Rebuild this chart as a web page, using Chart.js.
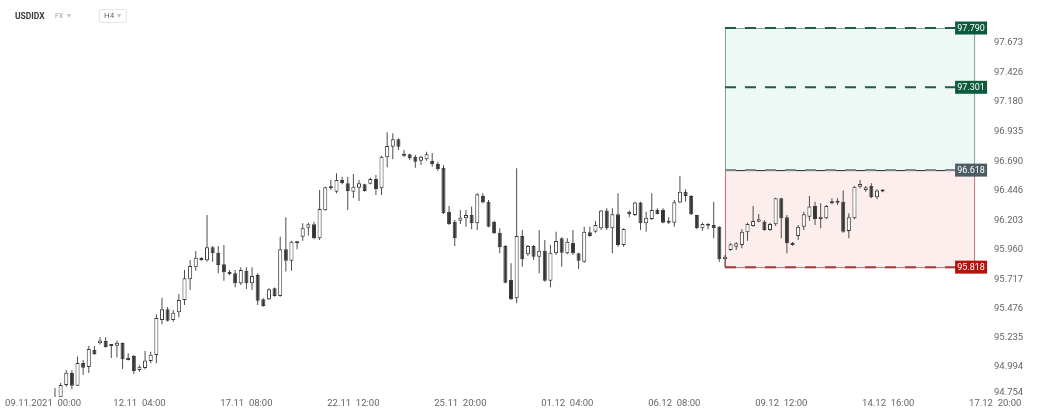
<!DOCTYPE html>
<html>
<head>
<meta charset="utf-8">
<script src="https://cdn.jsdelivr.net/npm/chart.js@4.4.1/dist/chart.umd.min.js"></script>
<style>
    html, body { margin: 0; padding: 0; background: #fff; }
    #wrap { position: relative; width: 1042px; height: 417px; }
    #hdr { position: absolute; left: 0; top: 0; font-family: Roboto, "Open Sans", sans-serif; }
    #hdr .sym { position: absolute; left: 15px; top: 11px; font-size: 8.5px; font-weight: bold; color: #3a3a3a; }
    #hdr .mk { position: absolute; left: 55px; top: 12px; font-size: 7px; color: #9a9a9a; }
    #hdr .car { position: absolute; font-size: 8px; color: #c4c4c4; }
    #hdr .tf { position: absolute; left: 99px; top: 9px; width: 28px; height: 14px; border: 1px solid #e6e6e6; border-radius: 2px; box-sizing: border-box; }
    #hdr .tf span.t { position: absolute; left: 4px; top: 1px; font-size: 8px; color: #666; }
</style>
</head>
<body>
<div id="wrap">
    <canvas id="chart" width="1042" height="417"></canvas>
    <div id="hdr">
        <span class="sym">USDIDX</span>
        <span class="mk">FX</span>
        <span class="car" style="left:67px; top:11px;">▾</span>
        <div class="tf"><span class="t">H4</span><span class="car" style="left:17px; top:1px;">▾</span></div>
    </div>
</div>
<script>
// axis labels
const priceTicks = ['97.673', '97.426', '97.180', '96.935', '96.690', '96.446', '96.203', '95.960', '95.717', '95.476', '95.235', '94.994', '94.754'];
const dateTicks = ['09.11.2021  00:00', '12.11  04:00', '17.11  08:00', '22.11  12:00', '25.11  20:00', '01.12  04:00', '06.12  08:00', '09.12  12:00', '14.12  16:00', '17.12  20:00'];
const dateTickBars = [0, 19, 38, 57, 76, 95, 114, 133, 152, 171];

// H4 candles, first one is bar #4 counted from 09.11 00:00
const firstBar = 4;
const opens = [
    94.740, 94.745, 94.846, 94.945, 94.840, 95.028, 94.995, 95.135, 95.190, 95.209,
    95.176, 95.170, 95.193, 95.071, 95.085, 94.970, 94.987, 95.044, 95.094, 95.382,
    95.471, 95.382, 95.446, 95.547, 95.718, 95.817, 95.894, 95.875, 95.982, 95.937,
    95.842, 95.778, 95.767, 95.685, 95.789, 95.685, 95.754, 95.553, 95.553, 95.644,
    95.580, 95.965, 95.871, 96.015, 96.069, 96.143, 96.171, 96.056, 96.287, 96.480,
    96.440, 96.537, 96.510, 96.440, 96.473, 96.501, 96.506, 96.545, 96.468, 96.724,
    96.811, 96.872, 96.751, 96.749, 96.729, 96.696, 96.707, 96.693, 96.669, 96.638,
    96.275, 96.193, 96.201, 96.221, 96.248, 96.180, 96.405, 96.358, 96.193, 96.102,
    95.992, 95.712, 95.561, 96.075, 95.924, 95.992, 95.904, 95.954, 95.706, 95.932,
    96.056, 95.932, 96.020, 95.932, 95.863, 96.105, 96.110, 96.138, 96.284, 96.138,
    96.254, 96.001, 96.275, 96.248, 96.350, 96.180, 96.215, 96.289, 96.289, 96.199,
    96.185, 96.350, 96.440, 96.405, 96.248, 96.138, 96.171, 96.166, 96.152, 95.883,
    95.960, 95.987, 96.001, 96.105, 96.157, 96.193, 96.193, 96.125, 96.171, 96.386,
    96.229, 96.020, 96.075, 96.152, 96.234, 96.322, 96.215, 96.221, 96.358, 96.358,
    96.358, 96.116, 96.221, 96.481, 96.454, 96.487, 96.394, 96.449
];
const highs = [
    94.821, 94.863, 94.970, 94.967, 95.080, 95.053, 95.168, 95.168, 95.240, 95.240,
    95.185, 95.212, 95.196, 95.108, 95.094, 95.009, 95.127, 95.121, 95.429, 95.566,
    95.490, 95.465, 95.597, 95.795, 95.877, 95.951, 95.900, 96.248, 95.992, 95.992,
    96.000, 95.795, 95.795, 95.817, 95.817, 95.817, 95.767, 95.561, 95.644, 95.650,
    96.069, 96.229, 96.036, 96.036, 96.180, 96.185, 96.193, 96.454, 96.481, 96.537,
    96.592, 96.564, 96.564, 96.586, 96.537, 96.505, 96.556, 96.578, 96.737, 96.930,
    96.922, 96.881, 96.784, 96.752, 96.743, 96.737, 96.770, 96.759, 96.688, 96.660,
    96.322, 96.207, 96.289, 96.289, 96.317, 96.427, 96.427, 96.372, 96.200, 96.138,
    96.001, 95.850, 96.633, 96.125, 96.001, 96.001, 96.125, 96.042, 96.001, 96.110,
    96.064, 96.056, 96.125, 95.937, 96.152, 96.152, 96.199, 96.289, 96.303, 96.303,
    96.427, 96.138, 96.284, 96.358, 96.358, 96.275, 96.427, 96.303, 96.303, 96.229,
    96.372, 96.570, 96.460, 96.413, 96.250, 96.185, 96.180, 96.358, 96.155, 95.918,
    96.015, 96.023, 96.130, 96.185, 96.322, 96.256, 96.207, 96.185, 96.391, 96.391,
    96.248, 96.026, 96.166, 96.275, 96.405, 96.358, 96.345, 96.331, 96.386, 96.386,
    96.449, 96.262, 96.487, 96.537, 96.487, 96.510, 96.460, 96.460
];
const lows = [
    94.660, 94.720, 94.832, 94.811, 94.838, 94.929, 94.945, 95.094, 95.179, 95.155,
    95.069, 95.075, 94.978, 95.047, 94.937, 94.956, 94.976, 95.025, 95.025, 95.347,
    95.370, 95.368, 95.405, 95.506, 95.630, 95.789, 95.871, 95.863, 95.863, 95.767,
    95.706, 95.754, 95.652, 95.671, 95.638, 95.630, 95.506, 95.492, 95.547, 95.574,
    95.574, 95.781, 95.789, 95.965, 96.036, 96.078, 96.048, 96.042, 96.282, 96.454,
    96.427, 96.501, 96.289, 96.388, 96.364, 96.440, 96.501, 96.413, 96.413, 96.641,
    96.707, 96.784, 96.726, 96.702, 96.638, 96.660, 96.696, 96.646, 96.613, 96.256,
    96.166, 95.992, 96.174, 96.152, 96.130, 96.125, 96.345, 96.147, 96.091, 95.932,
    95.685, 95.547, 95.520, 95.822, 95.910, 95.877, 95.767, 95.698, 95.652, 95.918,
    95.822, 95.924, 95.918, 95.803, 95.855, 96.069, 96.102, 96.125, 96.125, 95.932,
    95.987, 95.987, 96.229, 96.240, 96.125, 96.110, 96.207, 96.254, 96.180, 96.174,
    96.152, 96.345, 96.358, 96.248, 96.133, 96.119, 96.130, 96.056, 95.863, 95.818,
    95.954, 95.960, 95.974, 96.036, 96.152, 96.188, 96.119, 96.119, 96.157, 96.056,
    95.932, 95.995, 96.042, 96.125, 96.201, 96.166, 96.138, 96.213, 96.336, 96.331,
    96.102, 96.056, 96.213, 96.468, 96.440, 96.386, 96.378, 96.436
];
const closes = [
    94.700, 94.846, 94.948, 94.840, 95.028, 94.989, 95.143, 95.102, 95.212, 95.160,
    95.168, 95.195, 95.058, 95.053, 94.962, 94.997, 95.047, 95.096, 95.399, 95.471,
    95.376, 95.442, 95.547, 95.726, 95.828, 95.896, 95.877, 95.982, 95.932, 95.836,
    95.776, 95.762, 95.685, 95.795, 95.685, 95.745, 95.541, 95.498, 95.635, 95.580,
    95.965, 95.871, 96.028, 96.028, 96.138, 96.171, 96.056, 96.298, 96.476, 96.468,
    96.537, 96.510, 96.446, 96.481, 96.510, 96.446, 96.545, 96.462, 96.729, 96.817,
    96.872, 96.811, 96.737, 96.716, 96.688, 96.729, 96.749, 96.666, 96.625, 96.262,
    96.174, 96.056, 96.226, 96.248, 96.180, 96.419, 96.350, 96.152, 96.097, 95.982,
    95.690, 95.553, 96.075, 95.883, 95.992, 95.904, 95.954, 95.706, 95.937, 96.034,
    95.937, 96.028, 95.932, 95.871, 96.110, 96.075, 96.166, 96.284, 96.138, 96.254,
    96.001, 96.133, 96.254, 96.350, 96.180, 96.226, 96.289, 96.256, 96.185, 96.185,
    96.353, 96.440, 96.405, 96.254, 96.138, 96.174, 96.160, 96.138, 95.883, 95.904,
    96.006, 96.015, 96.110, 96.174, 96.199, 96.213, 96.125, 96.174, 96.386, 96.221,
    96.015, 96.001, 96.152, 96.254, 96.317, 96.215, 96.234, 96.322, 96.345, 96.348,
    96.110, 96.229, 96.481, 96.504, 96.476, 96.394, 96.449, 96.441
];

// price zones: take profit 2, take profit 1, entry, stop
const zoneLevels = [97.790, 97.301, 96.618, 95.818];
const zoneBars = [123, 167.25];

const barX = opens.map((o, i) => firstBar + i);
const rising = opens.map((o, i) => closes[i] >= o);

// zones behind the candles, tags on top
const zonePlugin = {
    id: 'zones',
    beforeDatasetsDraw(chart) {
        const { ctx, scales: { x, y } } = chart;
        const x0 = x.getPixelForValue(zoneBars[0]);
        const x1 = x.getPixelForValue(zoneBars[1]);
        const yTop = y.getPixelForValue(zoneLevels[0]);
        const yTp1 = y.getPixelForValue(zoneLevels[1]);
        const yEntry = y.getPixelForValue(zoneLevels[2]);
        const yStop = y.getPixelForValue(zoneLevels[3]);
        ctx.save();
        ctx.fillStyle = '#eef8f4';
        ctx.fillRect(x0, yTop, x1 - x0, yEntry - yTop);
        ctx.fillStyle = '#fdeeee';
        ctx.fillRect(x0, yEntry, x1 - x0, yStop - yEntry);
        ctx.lineWidth = 1;
        ctx.strokeStyle = '#7da594';
        ctx.strokeRect(x0 + 0.5, yTop + 0.5, x1 - x0, yEntry - yTop);
        ctx.strokeStyle = '#c07070';
        ctx.strokeRect(x0 + 0.5, yEntry + 0.5, x1 - x0, yStop - yEntry);
        ctx.strokeStyle = '#3a3a3a';
        ctx.beginPath();
        ctx.moveTo(x0, Math.round(yEntry) + 0.5);
        ctx.lineTo(x1, Math.round(yEntry) + 0.5);
        ctx.stroke();
        const dashed = [
            [yTop, '#1f5c44'], [yTp1, '#1f5c44'], [yEntry, '#7d8b91'], [yStop, '#a83838']
        ];
        ctx.lineWidth = 2;
        ctx.setLineDash([11, 9]);
        dashed.forEach(([py, col]) => {
            ctx.strokeStyle = col;
            ctx.beginPath();
            ctx.moveTo(x0, py);
            ctx.lineTo(x1, py);
            ctx.stroke();
        });
        ctx.restore();
    },
    afterDatasetsDraw(chart) {
        const { ctx, scales: { x, y } } = chart;
        const right = x.getPixelForValue(zoneBars[1]) + 13;
        const tagColors = ['#0d5b3d', '#0d5b3d', '#4b5c65', '#b3120f'];
        ctx.save();
        ctx.font = '9px Roboto';
        ctx.textAlign = 'center';
        ctx.textBaseline = 'middle';
        zoneLevels.forEach((lvl, i) => {
            const py = y.getPixelForValue(lvl);
            ctx.fillStyle = tagColors[i];
            ctx.fillRect(right - 32, py - 6.5, 32, 13);
            ctx.fillStyle = '#ffffff';
            ctx.fillText(lvl.toFixed(3), right - 16, py + 0.5);
        });
        ctx.restore();
    }
};

// tick text for both axes
const axisText = {
    id: 'axisText',
    afterDraw(chart) {
        const { ctx, chartArea, scales: { x, y } } = chart;
        ctx.save();
        ctx.font = '9.5px Roboto';
        ctx.textBaseline = 'middle';
        ctx.fillStyle = '#666';
        ctx.textAlign = 'left';
        priceTicks.forEach((t, i) => {
            let py = y.getPixelForValue(Number(t));
            if (i === priceTicks.length - 1) py -= 4;
            ctx.fillText(t, 994, py);
        });
        ctx.textAlign = 'center';
        dateTicks.forEach((t, i) => {
            let px = x.getPixelForValue(dateTickBars[i]);
            const w = ctx.measureText(t).width;
            if (px - w / 2 < 5) px = 5 + w / 2;
            ctx.fillText(t, px, chartArea.bottom + 7);
        });
        ctx.restore();
    }
};

const ctx = document.getElementById('chart').getContext('2d');
new Chart(ctx, {
    type: 'bar',
    data: {
        datasets: [
            {
                // wicks
                data: barX.map((bx, i) => ({ x: bx, y: [lows[i], highs[i]] })),
                backgroundColor: '#4d4d4d',
                grouped: false,
                categoryPercentage: 1,
                barPercentage: 0.5,
                maxBarThickness: 1,
                order: 2,
                clip: 0
            },
            {
                // bodies
                data: barX.map((bx, i) => ({ x: bx, y: [opens[i], closes[i]] })),
                backgroundColor: rising.map(r => r ? '#ffffff' : '#333333'),
                borderColor: '#3a3a3a',
                borderWidth: 1,
                borderSkipped: false,
                minBarLength: 2,
                grouped: false,
                categoryPercentage: 1,
                barPercentage: 0.72,
                order: 1,
                clip: 0
            }
        ]
    },
    options: {
        responsive: false,
        animation: false,
        events: [],
        layout: { padding: { left: 0, right: 12, top: 20, bottom: 20 } },
        plugins: { legend: { display: false }, tooltip: { enabled: false } },
        scales: {
            x: { type: 'linear', min: -5.77, max: 177.18, offset: false, display: false },
            y: { type: 'linear', min: 94.747, max: 97.856, display: false }
        }
    },
    plugins: [zonePlugin, axisText]
});
</script>
</body>
</html>
